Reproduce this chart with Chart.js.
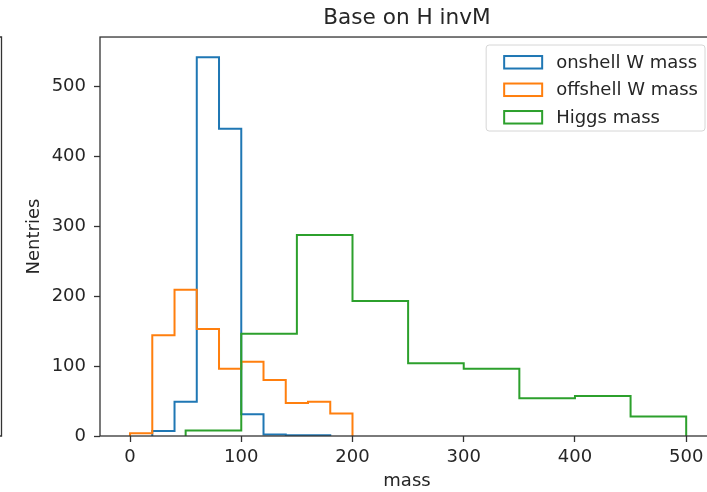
<!DOCTYPE html>
<html>
<head>
<meta charset="utf-8">
<script src="https://cdn.jsdelivr.net/npm/chart.js@4/dist/chart.umd.min.js"></script>
<style>
  html, body { margin: 0; padding: 0; background: #fff; overflow: hidden; }
  #wrap { width: 720px; height: 492px; }
</style>
</head>
<body>
<div id="wrap"><canvas id="histChart" width="720" height="492"></canvas></div>
<script>
// bin edges and counts
const onshellEdges = [20, 40, 60, 80, 100, 120, 140, 160, 180];
const onshellCounts = [7, 49, 541, 439, 31, 2, 1, 1];
const offshellEdges = [0, 20, 40, 60, 80, 100, 120, 140, 160, 180, 200];
const offshellCounts = [4, 144, 209, 153, 96, 106, 80, 47, 49, 32];
const higgsEdges = [50, 100, 150, 200, 250, 300, 350, 400, 450, 500];
const higgsCounts = [8, 146, 287, 193, 104, 96, 54, 57, 28];
const xTicks = [0, 100, 200, 300, 400, 500];
const yTicks = [0, 100, 200, 300, 400, 500];

const spineColor = '#333333';
const textColor = '#262626';
const fontSize = 18;

Chart.defaults.font.family = "'DejaVu Sans', sans-serif";
Chart.defaults.color = textColor;

// outline like matplotlib histtype='step'
function stepPoints(edges, counts) {
    const pts = [{ x: edges[0], y: 0 }];
    counts.forEach((c, i) => pts.push({ x: edges[i], y: c }));
    pts.push({ x: edges[edges.length - 1], y: counts[counts.length - 1] });
    pts.push({ x: edges[edges.length - 1], y: 0 });
    return pts;
}

const framePlugin = {
    id: 'frame',
    afterDatasetsDraw(chart) {
        const { ctx, chartArea: a } = chart;
        ctx.save();
        ctx.strokeStyle = spineColor;
        ctx.lineWidth = 1.3;
        ctx.strokeRect(a.left, a.top, a.right - a.left, a.bottom - a.top);
        // right edge of the neighbouring axes, cut off by the figure
        ctx.beginPath();
        ctx.moveTo(-2, a.top);
        ctx.lineTo(1.5, a.top);
        ctx.lineTo(1.5, a.bottom);
        ctx.lineTo(-2, a.bottom);
        ctx.stroke();
        ctx.restore();
    }
};

const boxLegend = {
    id: 'boxLegend',
    afterDraw(chart) {
        const { ctx, chartArea: a } = chart;
        const sets = chart.data.datasets;
        ctx.save();
        ctx.font = fontSize + "px 'DejaVu Sans'";
        const textW = Math.max(...sets.map(d => ctx.measureText(d.label).width));
        const w = 17 + 38 + 14 + textW + 8;
        const h = 86;
        const x0 = a.right - 9 - w;
        const y0 = a.top + 8;
        ctx.beginPath();
        ctx.roundRect(x0, y0, w, h, 3);
        ctx.fillStyle = 'rgba(255,255,255,0.8)';
        ctx.fill();
        ctx.strokeStyle = '#d6d6d6';
        ctx.lineWidth = 1;
        ctx.stroke();
        sets.forEach((d, i) => {
            const cy = y0 + 17 + i * 27.5;
            ctx.strokeStyle = d.borderColor;
            ctx.lineWidth = 2;
            ctx.strokeRect(x0 + 18, cy - 6, 38, 12.5);
            ctx.fillStyle = textColor;
            ctx.textBaseline = 'middle';
            ctx.fillText(d.label, x0 + 70, cy + 1);
        });
        ctx.restore();
    }
};

new Chart(document.getElementById('histChart'), {
    type: 'line',
    data: {
        datasets: [
            { label: 'onshell W mass', data: stepPoints(onshellEdges, onshellCounts), borderColor: '#1f77b4', order: 3 },
            { label: 'offshell W mass', data: stepPoints(offshellEdges, offshellCounts), borderColor: '#ff7f0e', order: 2 },
            { label: 'Higgs mass', data: stepPoints(higgsEdges, higgsCounts), borderColor: '#2ca02c', order: 1 }
        ]
    },
    options: {
        responsive: false,
        animation: false,
        datasets: {
            line: { stepped: true, borderWidth: 2, pointRadius: 0, fill: false, tension: 0 }
        },
        layout: { padding: { top: 0, right: 6, bottom: 0, left: 0 } },
        scales: {
            x: {
                type: 'linear',
                min: -27,
                max: 525,
                afterFit(scale) { scale.height = 56; },
                afterBuildTicks(scale) { scale.ticks = xTicks.map(v => ({ value: v })); },
                grid: { drawOnChartArea: false, tickLength: 6, tickColor: spineColor, tickWidth: 1.3 },
                border: { display: false },
                ticks: { font: { size: fontSize }, padding: 5, maxRotation: 0 },
                title: { display: true, text: 'mass', font: { size: fontSize }, padding: { top: 0, bottom: 0 } }
            },
            y: {
                min: 0,
                max: 570,
                afterFit(scale) { scale.width = 100; },
                afterBuildTicks(scale) { scale.ticks = yTicks.map(v => ({ value: v })); },
                grid: { drawOnChartArea: false, tickLength: 6, tickColor: spineColor, tickWidth: 1.3 },
                border: { display: false },
                ticks: { font: { size: fontSize }, padding: 8 },
                title: { display: true, text: 'Nentries', font: { size: fontSize }, padding: { top: 23.5, bottom: 0 } }
            }
        },
        plugins: {
            legend: { display: false },
            tooltip: { enabled: false },
            title: {
                display: true,
                text: 'Base on H invM',
                fullSize: false,
                color: textColor,
                font: { size: 21.6, weight: 'normal' },
                padding: { top: 5.5, bottom: 5.6 }
            }
        }
    },
    plugins: [framePlugin, boxLegend]
});
</script>
</body>
</html>
